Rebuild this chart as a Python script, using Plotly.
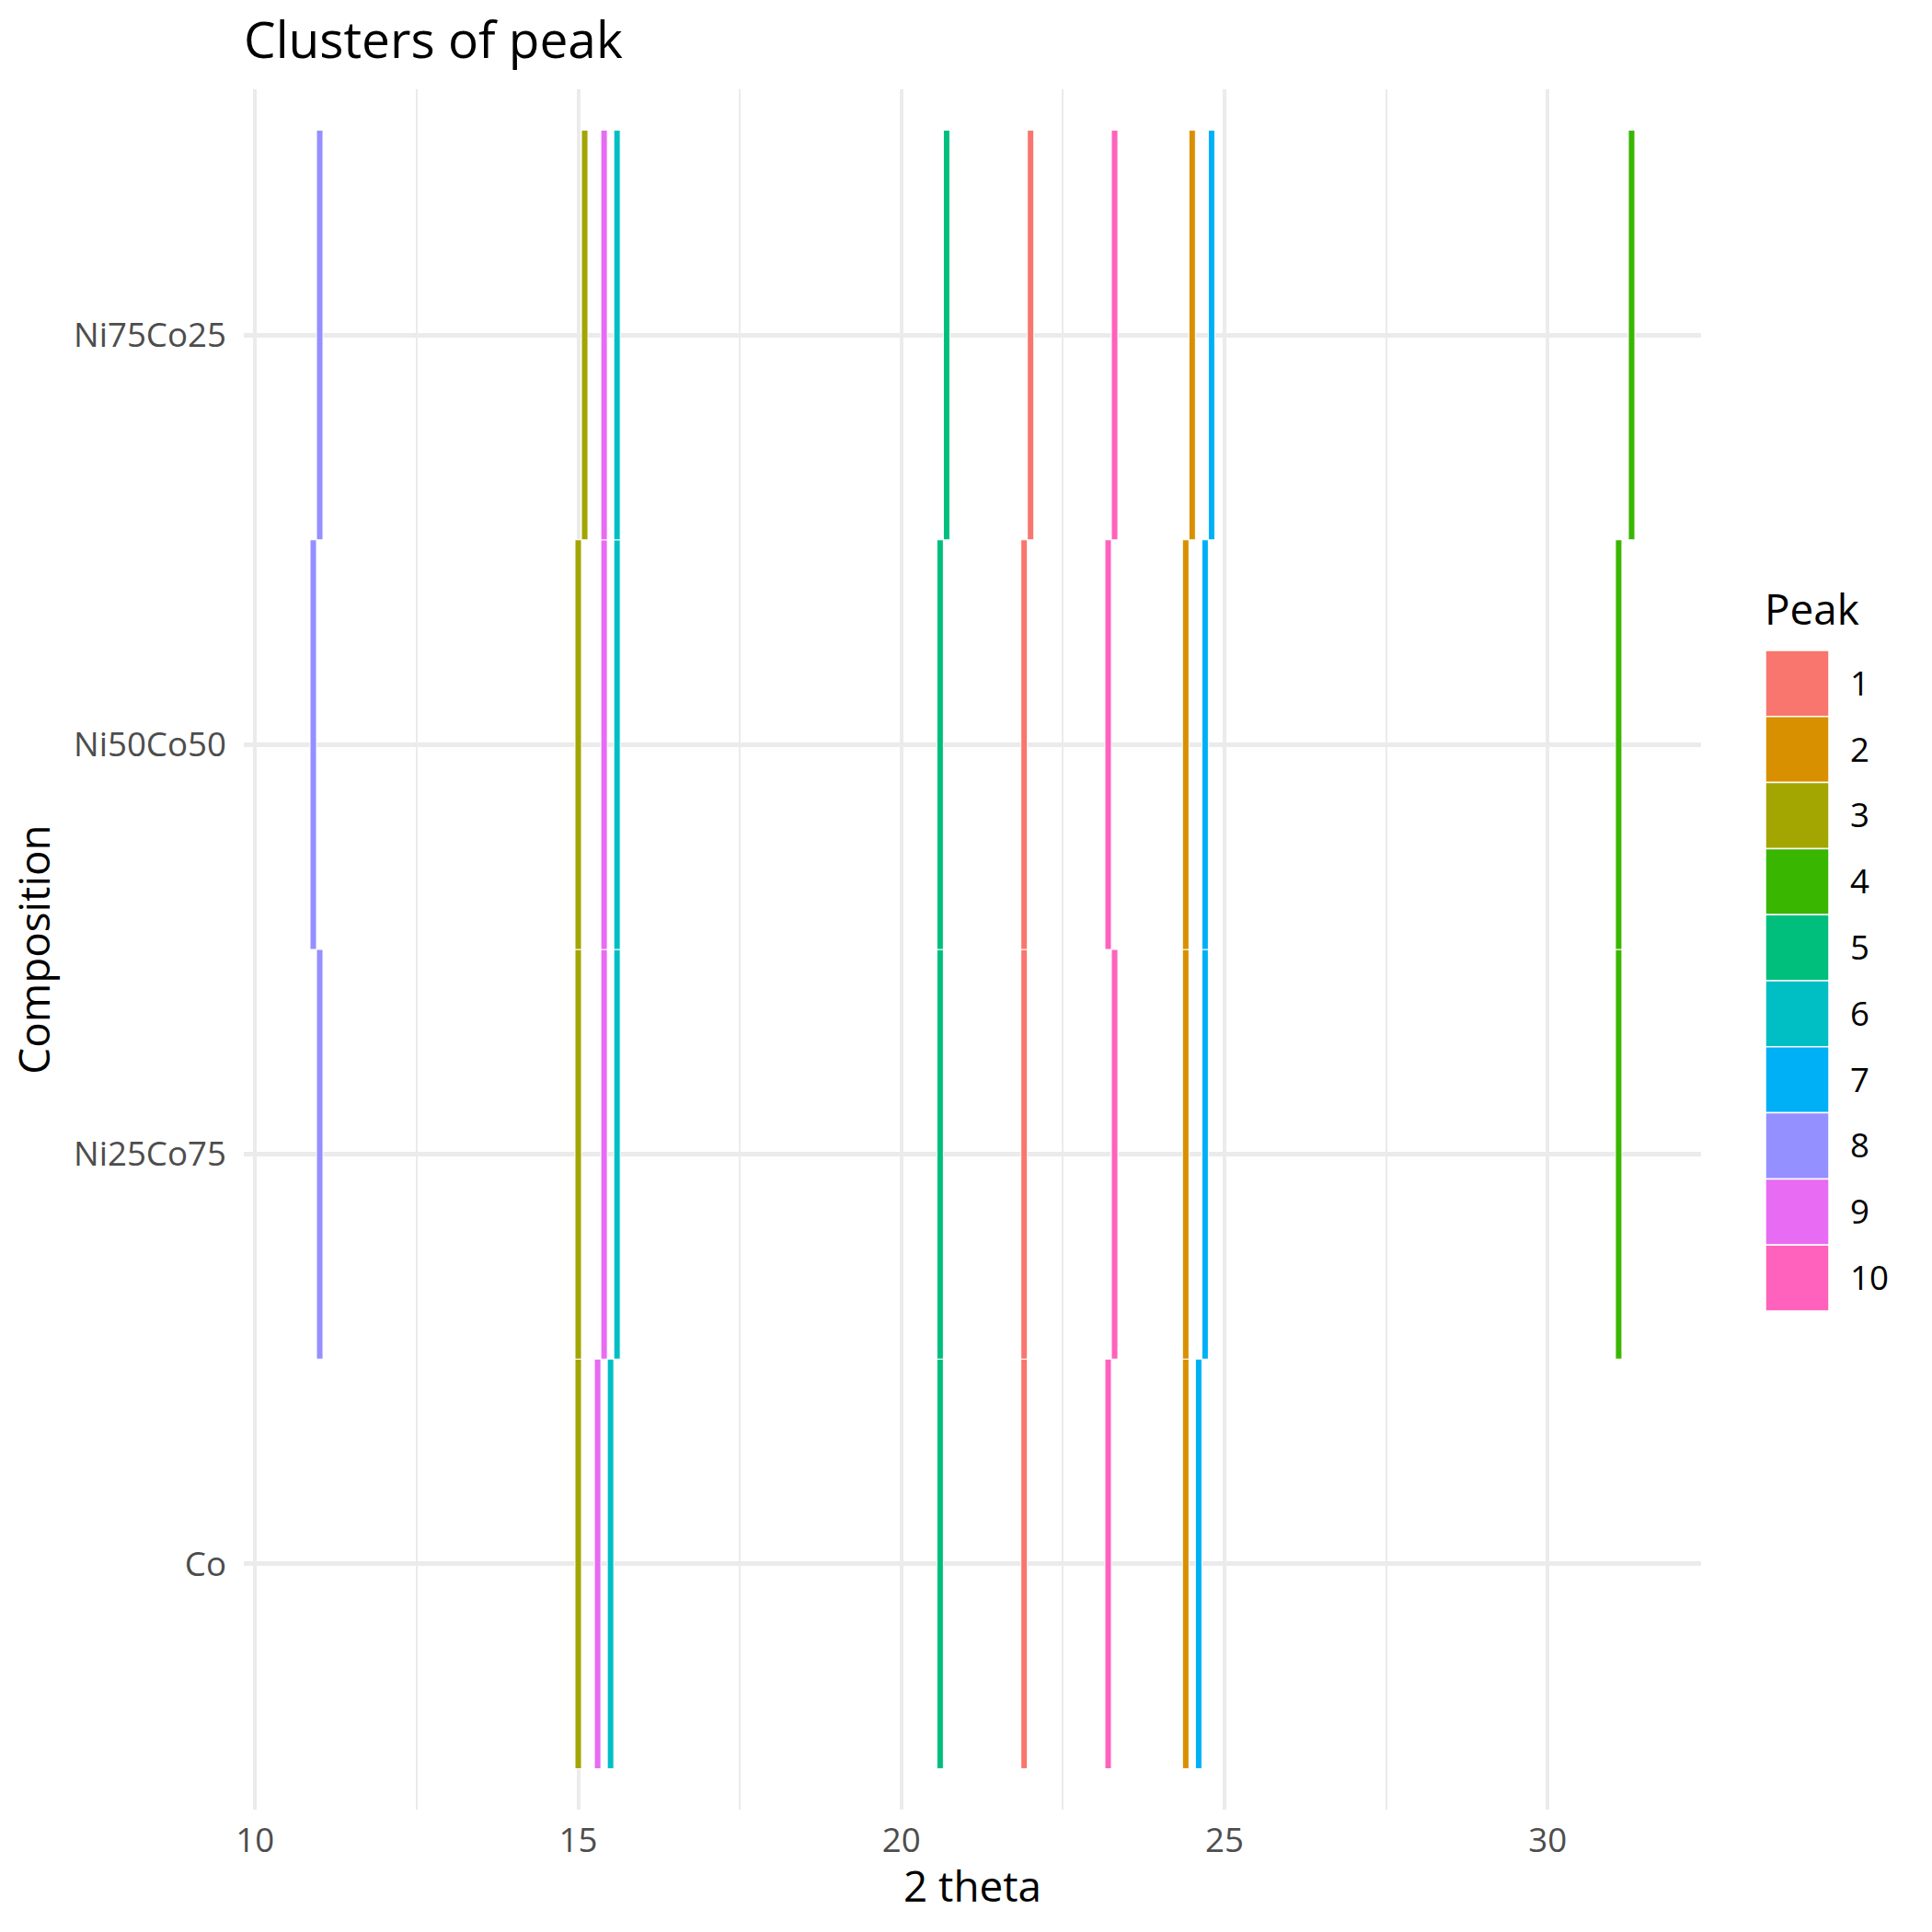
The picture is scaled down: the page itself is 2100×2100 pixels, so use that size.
import plotly.graph_objects as go

# ---- data ----
compositions = ["Co", "Ni25Co75", "Ni50Co50", "Ni75Co25"]
peaks = ["1", "2", "3", "4", "5", "6", "7", "8", "9", "10"]
peak_colors = ["#F8766D", "#D89000", "#A3A500", "#39B600", "#00BF7D",
               "#00BFC4", "#00B0F6", "#9590FF", "#E76BF3", "#FF62BC"]

# 2-theta position of each peak cluster per composition (None = absent)
pos_Co       = [21.9, 24.4, 15.0, None, 20.6, 15.5, 24.6, None, 15.3, 23.2]
pos_Ni25Co75 = [21.9, 24.4, 15.0, 31.1, 20.6, 15.6, 24.7, 11.0, 15.4, 23.3]
pos_Ni50Co50 = [21.9, 24.4, 15.0, 31.1, 20.6, 15.6, 24.7, 10.9, 15.4, 23.2]
pos_Ni75Co25 = [22.0, 24.5, 15.1, 31.3, 20.7, 15.6, 24.8, 11.0, 15.4, 23.3]
positions = [pos_Co, pos_Ni25Co75, pos_Ni50Co50, pos_Ni75Co25]

x_ticks = [10, 15, 20, 25, 30]
tile_width = 0.1

FONT = "Open Sans"
W = H = 2100
L, R, T, B = 265, 10, 97, 133
PW = W - L - R
PH = H - T - B
main_right = 1849
x_dom_end = (main_right - L) / PW

fig = go.Figure()

for k, pk in enumerate(peaks):
    xs, bases, hs = [], [], []
    for ci, comp_pos in enumerate(positions):
        v = comp_pos[k]
        if v is None:
            continue
        xs.append(v)
        bases.append(ci + 1 - 0.5)
        hs.append(1)
    fig.add_trace(go.Bar(
        x=xs, y=hs, base=bases, width=[tile_width] * len(xs),
        marker=dict(color=peak_colors[k], line=dict(color="white", width=1)),
        name=pk, showlegend=False, hoverinfo="x+name",
        xaxis="x", yaxis="y",
    ))

# legend drawn as a small bar chart on its own axes
fig.add_trace(go.Bar(
    x=[1] * len(peaks), y=peaks, orientation="h", width=1,
    marker=dict(color=peak_colors, line=dict(color="white", width=1.5)),
    showlegend=False, hoverinfo="y", xaxis="x2", yaxis="y2",
))

leg_x0, leg_x1 = 1919, 1988
leg_top, leg_bot = 707, 1425

fig.update_layout(
    width=W, height=H,
    margin=dict(l=L, r=R, t=T, b=B, autoexpand=False),
    paper_bgcolor="white", plot_bgcolor="white",
    font=dict(family=FONT, color="black"),
    barmode="overlay",
    title=dict(text="Clusters of peak", x=265 / W, xref="container", xanchor="left",
               y=1 - 44 / H, yref="container", yanchor="middle",
               font=dict(size=55, color="black", family=FONT)),
    xaxis=dict(
        domain=[0, x_dom_end], range=[9.825, 32.375],
        tickvals=x_ticks, ticktext=[str(t) for t in x_ticks],
        showgrid=True, gridcolor="#EBEBEB", gridwidth=4.4,
        minor=dict(dtick=2.5, tick0=10, showgrid=True, gridcolor="#EBEBEB", gridwidth=2.2),
        zeroline=False, showline=False, ticks="",
        tickfont=dict(size=36.7, color="#4D4D4D", family=FONT),
        ticklabelstandoff=8,
    ),
    yaxis=dict(
        domain=[0, 1], range=[0.4, 4.6],
        tickvals=[1, 2, 3, 4], ticktext=compositions,
        showgrid=True, gridcolor="#EBEBEB", gridwidth=4.6,
        zeroline=False, showline=False, ticks="",
        tickfont=dict(size=36.7, color="#4D4D4D", family=FONT),
        ticklabelstandoff=18,
        title=dict(text="Composition", font=dict(size=45.8, color="black", family=FONT), standoff=10),
    ),
    xaxis2=dict(
        domain=[(leg_x0 - L) / PW, (leg_x1 - L) / PW], range=[0, 1],
        visible=False, anchor="y2", fixedrange=True,
    ),
    yaxis2=dict(
        domain=[(H - B - leg_bot) / PH, (H - B - leg_top) / PH],
        type="category", categoryorder="array", categoryarray=peaks,
        range=[len(peaks) - 0.5, -0.5],
        anchor="x2", side="right", showgrid=False, zeroline=False, showline=False,
        ticks="", ticklabelstandoff=22, fixedrange=True,
        tickfont=dict(size=36.7, color="black", family=FONT),
    ),
    annotations=[
        dict(text="Peak", xref="paper", yref="paper",
             x=(1916 - L) / PW, y=(H - B - 661) / PH, xanchor="left", yanchor="middle",
             showarrow=False, font=dict(size=45.8, color="black", family=FONT)),
        dict(text="2 theta", xref="paper", yref="paper",
             x=x_dom_end / 2, y=(H - B - 2049) / PH, xanchor="center", yanchor="middle",
             showarrow=False, font=dict(size=45.8, color="black", family=FONT)),
    ],
)

fig.write_html("out.html")
